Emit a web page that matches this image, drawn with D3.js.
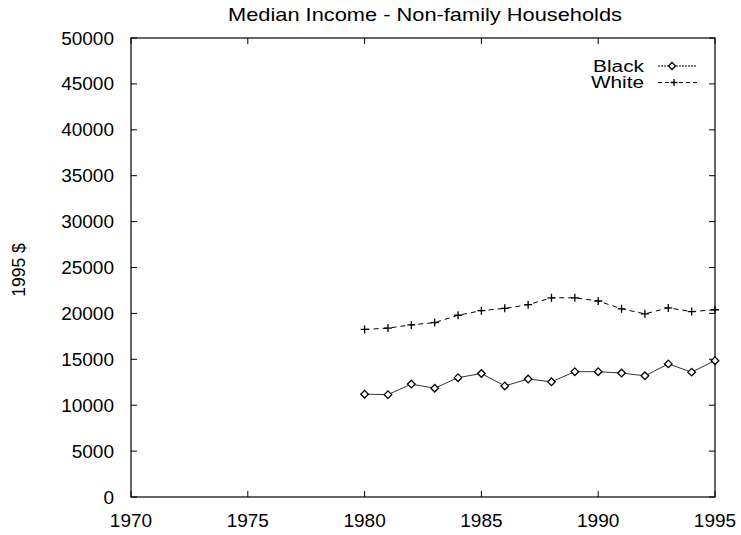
<!DOCTYPE html>
<html>
<head>
<meta charset="utf-8">
<script src="https://cdn.jsdelivr.net/npm/d3@7"></script>
<style>
  html, body { margin: 0; padding: 0; background: #fff; }
  svg { display: block; font-family: "Liberation Sans", Arial, sans-serif; }
</style>
</head>
<body>
<svg id="chart" width="741" height="535"></svg>
<script>
// Median income of non-family households, in constant 1995 dollars
const years = [1980, 1981, 1982, 1983, 1984, 1985, 1986, 1987, 1988, 1989, 1990, 1991, 1992, 1993, 1994, 1995];
const blackIncome = [11200, 11150, 12300, 11850, 13000, 13450, 12100, 12850, 12550, 13650, 13650, 13500, 13200, 14500, 13600, 14850];
const whiteIncome = [18250, 18400, 18750, 19000, 19800, 20300, 20550, 20950, 21700, 21700, 21350, 20500, 19950, 20600, 20200, 20400];
const xTicks = [1970, 1975, 1980, 1985, 1990, 1995];
const yTicks = [0, 5000, 10000, 15000, 20000, 25000, 30000, 35000, 40000, 45000, 50000];
const seriesNames = ["Black", "White"];

const svg = d3.select("#chart");
const plotLeft = 131, plotRight = 715, plotTop = 38, plotBottom = 497;

const x = d3.scaleLinear().domain([1970, 1995]).range([plotLeft, plotRight]);
const y = d3.scaleLinear().domain([0, 50000]).range([plotBottom, plotTop]);

// Title (wide-set lettering)
svg.append("text")
  .attr("x", 228)
  .attr("y", 21)
  .attr("font-size", 18.5)
  .attr("textLength", 394)
  .attr("lengthAdjust", "spacingAndGlyphs")
  .text("Median Income - Non-family Households");

// Y-axis label
svg.append("text")
  .attr("transform", "translate(25,270) rotate(-90)")
  .attr("text-anchor", "middle")
  .attr("font-size", 17.5)
  .text("1995 $");

// Frame
svg.append("rect")
  .attr("x", plotLeft).attr("y", plotTop)
  .attr("width", plotRight - plotLeft).attr("height", plotBottom - plotTop)
  .attr("fill", "none").attr("stroke", "#000").attr("stroke-width", 1.2);

const tickLen = 6;

// Y ticks (mirrored on both sides, pointing inward) and labels
const yAxis = svg.append("g");
yTicks.forEach(v => {
  yAxis.append("line").attr("x1", plotLeft).attr("x2", plotLeft + tickLen)
    .attr("y1", y(v)).attr("y2", y(v)).attr("stroke", "#000");
  yAxis.append("line").attr("x1", plotRight).attr("x2", plotRight - tickLen)
    .attr("y1", y(v)).attr("y2", y(v)).attr("stroke", "#000");
  yAxis.append("text")
    .attr("x", plotLeft - 17).attr("y", y(v) + 6.5)
    .attr("text-anchor", "end").attr("font-size", 19)
    .text(v);
});

// X ticks and labels
const xAxis = svg.append("g");
xTicks.forEach(v => {
  xAxis.append("line").attr("x1", x(v)).attr("x2", x(v))
    .attr("y1", plotBottom).attr("y2", plotBottom - tickLen).attr("stroke", "#000");
  xAxis.append("line").attr("x1", x(v)).attr("x2", x(v))
    .attr("y1", plotTop).attr("y2", plotTop + tickLen).attr("stroke", "#000");
  xAxis.append("text")
    .attr("x", x(v)).attr("y", 527)
    .attr("text-anchor", "middle").attr("font-size", 19)
    .text(v);
});

const blackData = years.map((yr, i) => [yr, blackIncome[i]]);
const whiteData = years.map((yr, i) => [yr, whiteIncome[i]]);
const line = d3.line().x(d => x(d[0])).y(d => y(d[1]));

// Diamond marker path
function diamond(cx, cy, r) {
  return `M${cx},${cy - r}L${cx + r},${cy}L${cx},${cy + r}L${cx - r},${cy}Z`;
}
// Plus marker path
function plus(cx, cy, r) {
  return `M${cx - r},${cy}L${cx + r},${cy}M${cx},${cy - r}L${cx},${cy + r}`;
}

// Black series: solid line with open diamonds
svg.append("path").datum(blackData)
  .attr("d", line).attr("fill", "none")
  .attr("stroke", "#333").attr("stroke-width", 1);
svg.append("g").selectAll("path").data(blackData).join("path")
  .attr("d", d => diamond(x(d[0]), y(d[1]), 3.8))
  .attr("fill", "#fff").attr("stroke", "#000").attr("stroke-width", 1.3);

// White series: dashed line with plus markers
svg.append("path").datum(whiteData)
  .attr("d", line).attr("fill", "none")
  .attr("stroke", "#000").attr("stroke-width", 1)
  .attr("stroke-dasharray", "5,4");
svg.append("g").selectAll("path").data(whiteData).join("path")
  .attr("d", d => plus(x(d[0]), y(d[1]), 4))
  .attr("fill", "none").attr("stroke", "#000").attr("stroke-width", 1.3);

// Legend
const legend = svg.append("g");
const legendY = [66, 82.5];
const legendTextWidth = [51, 53];
seriesNames.forEach((name, i) => {
  legend.append("text")
    .attr("x", 644 - legendTextWidth[i]).attr("y", legendY[i] + 5.5)
    .attr("font-size", 16)
    .attr("textLength", legendTextWidth[i])
    .attr("lengthAdjust", "spacingAndGlyphs")
    .text(name);
  legend.append("line")
    .attr("x1", 658).attr("x2", 697)
    .attr("y1", legendY[i]).attr("y2", legendY[i])
    .attr("stroke", "#000").attr("stroke-width", 1)
    .attr("stroke-dasharray", i === 0 ? "2,1" : "4,3");
  legend.append("path")
    .attr("d", i === 0 ? diamond(672, legendY[i], 3.5) : plus(674, legendY[i], 3.5))
    .attr("fill", i === 0 ? "#fff" : "none")
    .attr("stroke", "#000").attr("stroke-width", 1.3);
});
</script>
</body>
</html>
